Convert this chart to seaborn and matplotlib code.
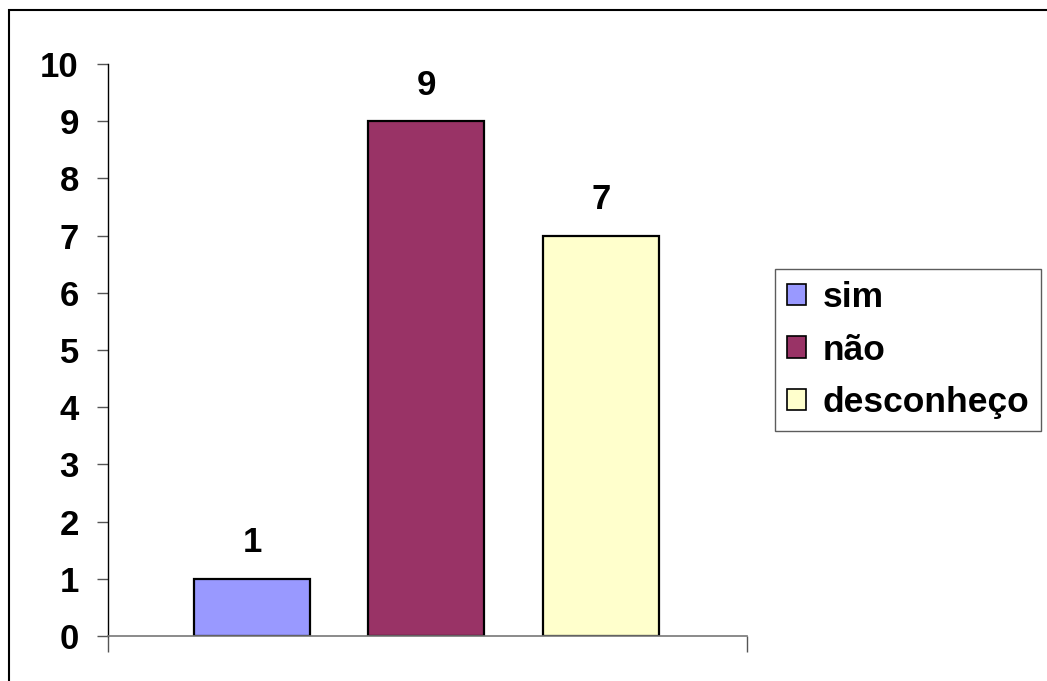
import matplotlib
matplotlib.use("Agg")
import matplotlib.pyplot as plt
import seaborn as sns
from matplotlib.patches import Patch, Rectangle

categories = ["sim", "não", "desconheço"]
values = [1, 9, 7]
colors = ["#9999FF", "#993366", "#FFFFCC"]
yticks = list(range(0, 11))

sns.set_style("white")
plt.rcParams["font.family"] = ["Liberation Sans", "DejaVu Sans"]
plt.rcParams["font.weight"] = "bold"
plt.rcParams["text.color"] = "black"
plt.rcParams["ytick.labelcolor"] = "black"

fig = plt.figure(figsize=(10.47, 6.81), dpi=100)
ax = fig.add_axes([108 / 1047, 1 - 636 / 681, 639 / 1047, 572 / 681])

sns.barplot(
    x=categories,
    y=values,
    hue=categories,
    palette=colors,
    saturation=1,
    edgecolor="black",
    linewidth=1.6,
    width=0.665,
    legend=False,
    ax=ax
)

for c in ax.containers:
    ax.bar_label(c, fontsize=25, fontweight="bold", color="black", padding=14)

ax.set_ylim(0, 10)
ax.set_xlim(-0.825, 2.837)
ax.set_yticks(yticks)
ax.set_yticklabels([str(t) for t in yticks], fontsize=25, fontweight="bold", color="black")
ax.set_xticks([-0.825, 2.837])
ax.set_xticklabels(["", ""])
ax.tick_params(axis="y", direction="out", length=8, width=1, color="#555555", pad=13, left=True)
ax.tick_params(axis="x", direction="out", length=11.5, width=1, color="#555555", bottom=True)
ax.set_xlabel("")
ax.set_ylabel("")

for side in ["top", "right"]:
    ax.spines[side].set_visible(False)
ax.spines["left"].set_color("black")
ax.spines["left"].set_linewidth(1)
ax.spines["bottom"].set_color("#777777")
ax.spines["bottom"].set_linewidth(1.2)

handles = [Patch(facecolor=col, edgecolor="black", linewidth=1.2) for col in colors]
leg = fig.legend(
    handles,
    categories,
    loc="center",
    bbox_to_anchor=(908 / 1047, 1 - 350 / 681),
    prop={"size": 25.5, "weight": "bold"},
    frameon=True,
    fancybox=False,
    handlelength=0.55,
    handleheight=0.55,
    handletextpad=0.45,
    labelspacing=0.55,
    borderpad=0.35,
    borderaxespad=0
)
leg.get_frame().set_edgecolor("#333333")
leg.get_frame().set_linewidth(1)
for t in leg.get_texts():
    t.set_color("black")

border = Rectangle((9 / 1047, -0.1), 1.2, 1.1 - 10 / 681,
                   transform=fig.transFigure, fill=False,
                   edgecolor="black", linewidth=1.5)
fig.patches.append(border)

plt.savefig("out.png", dpi=100)
